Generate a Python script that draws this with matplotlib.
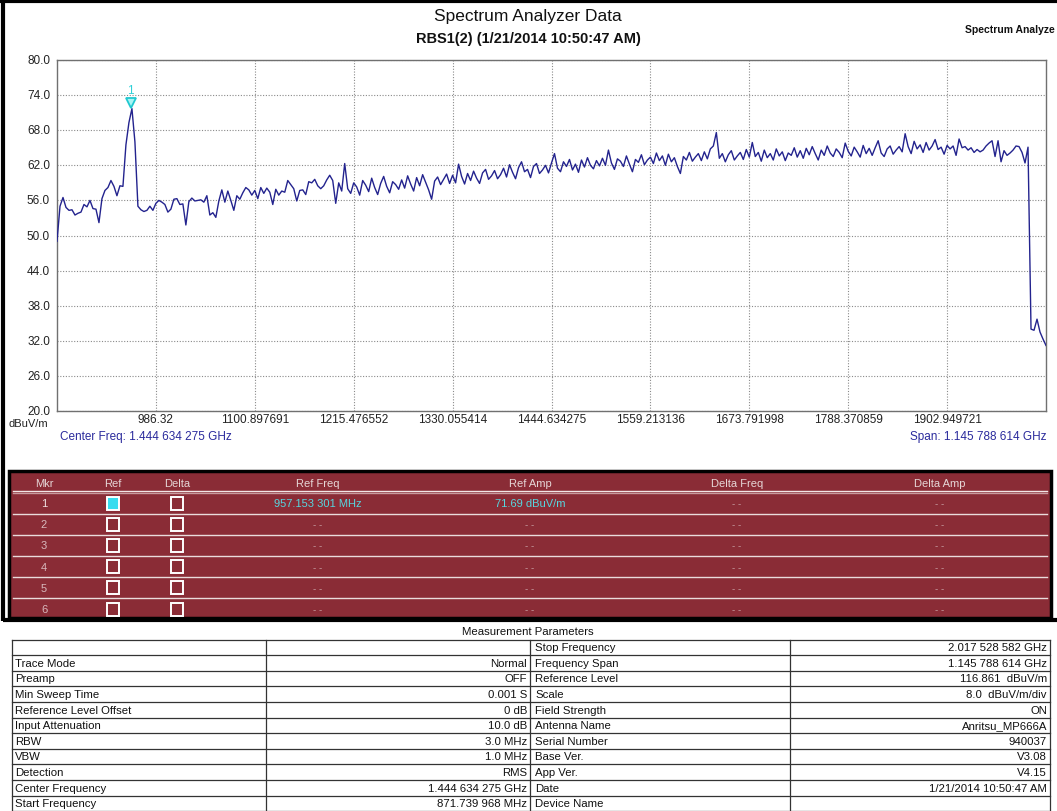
import numpy as np
import matplotlib
matplotlib.use("Agg")
import matplotlib.pyplot as plt
from matplotlib.patches import Rectangle
import matplotlib.transforms as mtransforms

W, H = 1057, 812

# ---------------- data ----------------
start_mhz = 871.739968
stop_mhz = 2017.528582
y_min, y_max, y_step = 20.0, 80.0, 6.0

xtick_labels = ["986.32", "1100.897691", "1215.476552", "1330.055414", "1444.634275",
                "1559.213136", "1673.791998", "1788.370859", "1902.949721"]

levels = [
    # 871.7 MHz ... (start)
    49.0, 55.0, 56.5, 54.8, 54.3, 54.4, 53.5, 53.8, 54.0, 55.3,
    54.9, 56.0, 54.6, 54.5, 52.2, 56.3, 57.7, 58.2, 59.4, 58.4,
    56.8, 58.5, 58.4, 65.5, 69.3, 71.69, 66.0, 55.0, 54.4, 54.1,
    54.3, 55.0, 54.3, 55.5, 56.0, 55.7, 55.3, 54.0, 54.5, 56.2,
    56.3, 55.3, 55.4, 51.8, 55.8, 56.4, 55.9, 56.0, 56.1, 55.7,
    56.8, 53.5, 53.9, 53.1, 55.9, 57.8, 55.7, 57.6, 56.0, 54.3,
    56.8, 56.2, 57.3, 58.2, 57.8, 56.9, 57.7, 56.3, 58.2, 57.2,
    58.1, 57.4, 55.3, 57.9, 56.9, 57.6, 57.4, 59.4, 58.7, 58.0,
    55.9, 57.7,
    57.8, 57.0, 59.2, 59.0, 59.6, 58.5, 58.0, 58.5, 59.5, 60.3,
    59.4, 55.5, 59.0,
    57.6, 62.3, 58.0, 57.2, 59.0, 58.3, 56.9, 59.4, 58.6, 57.5,
    59.8, 58.2, 57.0, 58.9, 60.1, 58.4, 57.3, 59.2, 58.7, 57.9,
    59.5, 58.1, 60.2, 58.8, 57.6, 59.9, 58.5, 60.4, 59.1, 57.8,
    56.2, 59.3, 60.0, 58.7, 59.6, 60.5, 58.9,
    60.3, 59.0, 62.2, 60.1, 58.8, 60.6, 59.4, 61.0, 59.8, 58.9,
    60.7, 61.3, 59.6, 60.2, 61.1, 59.7,
    60.4, 61.5, 60.0, 62.1, 60.8, 59.7, 61.6, 62.6, 60.9, 61.3,
    59.9, 61.8, 62.3, 60.6, 61.2, 62.0, 60.7,
    62.4, 64.0, 61.5, 60.9, 62.6, 61.8, 63.0, 61.2, 62.2, 60.8,
    62.9, 61.7, 63.3, 62.0, 61.4, 62.8, 61.9,
    63.2, 62.0, 64.6, 62.4, 61.3, 63.1, 62.7, 61.8, 63.6, 62.2,
    60.9, 63.0, 62.5, 63.8, 62.1, 62.9,
    63.4, 62.3, 64.1, 62.8, 63.6, 62.0, 63.9, 62.6, 63.3, 61.8,
    60.6, 63.5, 62.9, 64.2, 62.7, 63.4, 64.0,
    62.8, 64.3, 63.1, 64.8, 65.3, 67.6, 63.2, 64.0, 62.6, 63.8,
    64.5, 62.9, 63.6, 64.2, 63.0, 64.7, 63.4,
    65.9, 63.5, 64.2, 62.7, 64.6, 63.3, 64.0, 62.9, 64.8, 63.6,
    64.3, 62.8, 64.1, 63.7, 65.0, 63.4,
    64.5, 63.2, 64.9, 63.8, 65.2, 64.0, 62.9, 64.6, 63.7, 65.3,
    64.1, 63.5, 64.8, 64.2, 63.3, 65.8, 64.4,
    63.6, 65.1, 64.3, 63.4, 65.4, 64.0, 64.9, 63.7, 65.0, 66.2,
    64.1, 63.5, 64.8, 65.3, 63.9, 64.6, 65.2,
    64.3, 67.4, 65.2, 64.0, 66.1, 64.8, 65.5, 64.2, 65.9, 64.6,
    65.3, 66.4, 64.7, 65.1, 63.9, 65.4,
    64.8, 65.3, 63.7, 66.5, 65.0, 65.2, 64.6, 65.0, 64.2, 64.7,
    64.3, 64.6, 65.3, 65.8, 66.2, 63.5, 66.2, 62.6, 64.5, 63.7,
    64.1, 64.6, 65.3, 65.2, 64.2, 62.4, 65.1, 34.0, 33.8, 35.7,
    33.5, 32.3, 31.2,
    # ... 2017.5 MHz (stop)
]

marker_freq_mhz = 957.153301
marker_amp = 71.69
marker_freq_text = "957.153 301 MHz"
marker_amp_text = "71.69 dBuV/m"

mkr_headers = ["Mkr", "Ref", "Delta", "Ref Freq", "Ref Amp", "Delta Freq", "Delta Amp"]
mkr_numbers = ["1", "2", "3", "4", "5", "6"]

left_labels = ["", "Trace Mode", "Preamp", "Min Sweep Time", "Reference Level Offset",
               "Input Attenuation", "RBW", "VBW", "Detection", "Center Frequency",
               "Start Frequency"]
left_values = ["", "Normal", "OFF", "0.001 S", "0 dB", "10.0 dB", "3.0 MHz", "1.0 MHz",
               "RMS", "1.444 634 275 GHz", "871.739 968 MHz"]
right_labels = ["Stop Frequency", "Frequency Span", "Reference Level", "Scale",
                "Field Strength", "Antenna Name", "Serial Number", "Base Ver.",
                "App Ver.", "Date", "Device Name"]
right_values = ["2.017 528 582 GHz", "1.145 788 614 GHz", "116.861  dBuV/m",
                "8.0  dBuV/m/div", "ON", "Anritsu_MP666A", "940037", "V3.08",
                "V4.15", "1/21/2014 10:50:47 AM", ""]

# ---------------- figure ----------------
plt.rcParams['font.family'] = ['Liberation Sans', 'DejaVu Sans']
fig = plt.figure(figsize=(W / 100, H / 100), dpi=100)
fig.patch.set_facecolor('white')

# overlay in pixel coordinates (for frame, tables, texts)
ov = fig.add_axes([0, 0, 1, 1])
ov.set_xlim(0, W)
ov.set_ylim(H, 0)
ov.axis('off')
ov.set_zorder(0)

# outer frame
ov.plot([0, W], [1.5, 1.5], color='black', lw=3, solid_capstyle='butt')
ov.plot([3, 3], [0, 622], color='black', lw=3, solid_capstyle='butt')
ov.plot([3, W], [621, 621], color='black', lw=3, solid_capstyle='butt')

# titles
ov.text(528, 17, "Spectrum Analyzer Data", ha='center', va='center', fontsize=12.5,
        color='#111111')
ov.text(528, 39, "RBS1(2) (1/21/2014 10:50:47 AM)", ha='center', va='center',
        fontsize=10.5, fontweight='bold', color='#111111')
ov.text(1055, 30, "Spectrum Analyze", ha='right', va='center', fontsize=7.5,
        fontweight='bold', color='#111111')

# ---------------- spectrum plot ----------------
px_l, px_r, px_t, px_b = 57, 1046, 61, 412
ax = fig.add_axes([px_l / W, 1 - px_b / H, (px_r - px_l) / W, (px_b - px_t) / H])
ax.set_zorder(2)
ax.set_facecolor('white')

freqs = np.linspace(start_mhz, stop_mhz, len(levels))
ax.plot(freqs, levels, color='#23238e', lw=1.0, zorder=3)

ax.set_xlim(start_mhz, stop_mhz)
ax.set_ylim(y_min, y_max)
span = stop_mhz - start_mhz
xt = [start_mhz + span * k / 10 for k in range(1, 10)]
ax.set_xticks(xt)
ax.set_xticklabels(xtick_labels, fontsize=8.5, color='#222222')
yt = np.arange(y_min, y_max + 0.01, y_step)
ax.set_yticks(yt)
ax.set_yticklabels([f"{v:.1f}" for v in yt], fontsize=8.5, color='#222222')
ax.tick_params(axis='y', length=0, pad=5)
ax.tick_params(axis='x', length=0, pad=1.5)
for lab in ax.get_yticklabels():
    lab.set_verticalalignment('center')
ax.grid(True, color='#8a8a8a', linestyle=(0, (1, 1.5)), lw=0.8)
for s in ax.spines.values():
    s.set_color('#707070')
    s.set_linewidth(1.0)

# marker 1
tri_tr = mtransforms.offset_copy(ax.transData, fig=fig, x=0, y=6, units='dots')
ax.plot([marker_freq_mhz], [marker_amp], marker='v', ms=7, mfc='#a8f4f4',
        mec='#20c8d0', mew=1.3, transform=tri_tr, zorder=4, clip_on=False)
lab_tr = mtransforms.offset_copy(ax.transData, fig=fig, x=0, y=19, units='dots')
ax.text(marker_freq_mhz, marker_amp, "1", transform=lab_tr, ha='center', va='center',
        fontsize=8.5, color='#30d0d8', zorder=4)

# texts below plot
ov.text(48, 424, "dBuV/m", ha='right', va='center', fontsize=8, color='#222222')
ov.text(60, 437, "Center Freq: 1.444 634 275 GHz", ha='left', va='center',
        fontsize=8.5, color='#2a2a9c')
ov.text(1046, 437, "Span: 1.145 788 614 GHz", ha='right', va='center',
        fontsize=8.5, color='#2a2a9c')

# ---------------- marker table ----------------
red = '#8a2c36'
ov.add_patch(Rectangle((9, 472), 1042, 147, facecolor=red, edgecolor='black', lw=2.5,
                       zorder=1))
col_x = [44, 113, 177, 318, 530, 737, 940]
hdr_y = 484
for cx, h in zip(col_x, mkr_headers):
    ov.text(cx, hdr_y, h, ha='center', va='center', fontsize=8, color='#e6d6d6', zorder=3)
ov.plot([13, 1047], [492, 492], color='#f2e6e6', lw=1.0, zorder=2)
ov.plot([13, 1047], [494, 494], color='#c89a9e', lw=1.0, zorder=2)
row_h = 21.2
row0 = 504
for i, num in enumerate(mkr_numbers):
    cy = row0 + i * row_h
    ov.text(col_x[0], cy, num, ha='center', va='center', fontsize=8,
            color='#f0e0e0' if i == 0 else '#d8b8bc', zorder=3)
    for j, cx in enumerate(col_x[1:3]):
        fc = '#38dcef' if (i == 0 and j == 0) else 'none'
        ov.add_patch(Rectangle((cx - 6, cy - 6.5), 12, 13, facecolor=fc,
                               edgecolor='white', lw=1.4, zorder=3))
    if i == 0:
        ov.text(col_x[3], cy, marker_freq_text, ha='center', va='center', fontsize=8,
                color='#56d6df', zorder=3)
        ov.text(col_x[4], cy, marker_amp_text, ha='center', va='center', fontsize=8,
                color='#56d6df', zorder=3)
    else:
        for cx in col_x[3:5]:
            ov.text(cx, cy, "- -", ha='center', va='center', fontsize=7,
                    color='#c4989c', zorder=3)
    for cx in col_x[5:]:
        ov.text(cx, cy, "- -", ha='center', va='center', fontsize=7,
                color='#c4989c', zorder=3)
    if i < 5:
        ly = cy + row_h / 2
        ov.plot([13, 1047], [ly, ly], color='#eadcdc', lw=1.0, zorder=2)

# ---------------- measurement parameters table ----------------
ov.text(528, 632, "Measurement Parameters", ha='center', va='center', fontsize=8.2,
        color='#111111')
t_top = 640.5
t_rh = 15.6
vx = [12, 266, 530, 790, 1050]
n_rows = len(right_labels)
for k in range(n_rows + 1):
    yy = t_top + k * t_rh
    ov.plot([vx[0], vx[-1]], [yy, yy], color='#333333', lw=0.9)
for x in vx:
    ov.plot([x, x], [t_top, t_top + n_rows * t_rh], color='#333333', lw=0.9)
for k in range(n_rows):
    cy = t_top + (k + 0.5) * t_rh
    ov.text(vx[0] + 3, cy, left_labels[k], ha='left', va='center', fontsize=8.2,
            color='#111111')
    ov.text(vx[2] - 3, cy, left_values[k], ha='right', va='center', fontsize=8.2,
            color='#111111')
    ov.text(vx[2] + 5, cy, right_labels[k], ha='left', va='center', fontsize=8.2,
            color='#111111')
    ov.text(vx[4] - 3, cy, right_values[k], ha='right', va='center', fontsize=8.2,
            color='#111111')

fig.savefig("out.png", dpi=100, facecolor='white')
